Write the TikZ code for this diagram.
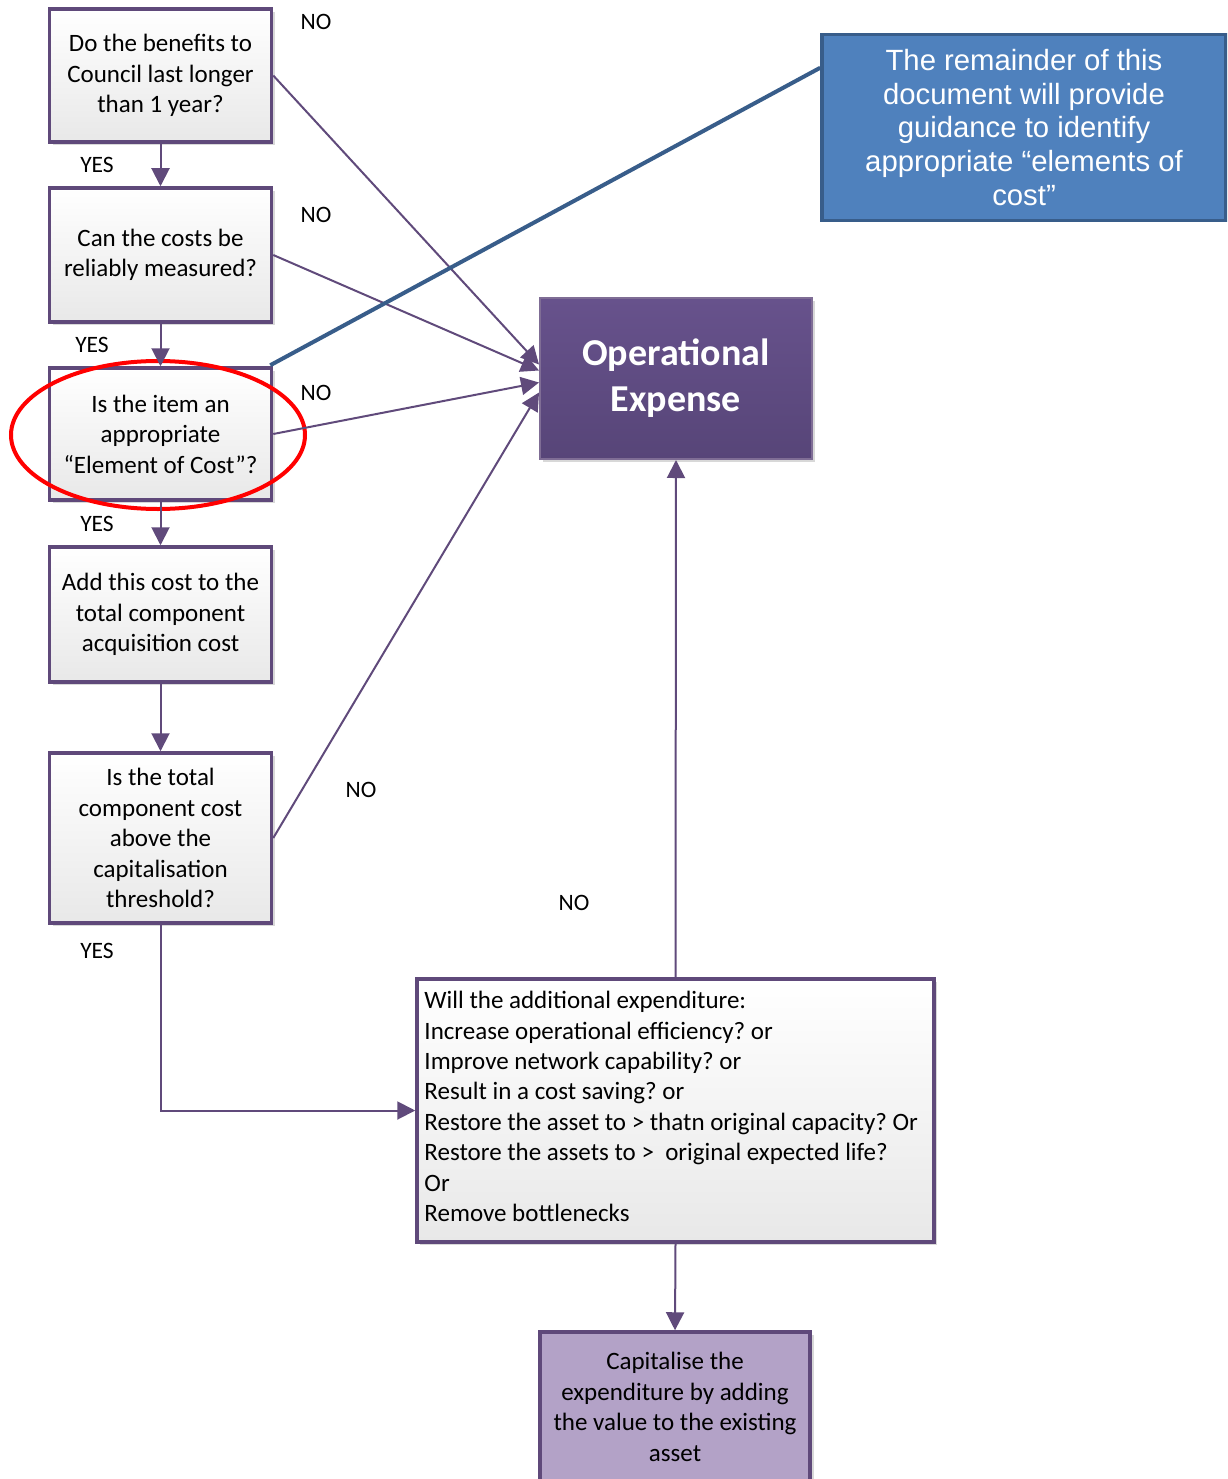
\documentclass[tikz,border=0pt]{standalone}
\usepackage{fontspec}
\setmainfont{Carlito}
\newfontfamily\arialf{Liberation Sans}
\usetikzlibrary{arrows.meta,shadows,calc}
\definecolor{boxborder}{HTML}{5F497A}
\definecolor{conn}{HTML}{604A7B}
\definecolor{optop}{HTML}{67528C}
\definecolor{opbot}{HTML}{574578}
\definecolor{capfill}{HTML}{B3A2C7}
\definecolor{bluefill}{HTML}{4F81BD}
\definecolor{blueedge}{HTML}{385D8A}
\frenchspacing
\tikzset{
  flowbox/.style={draw=boxborder, line width=3.5pt, top color=white, bottom color=black!9,
    minimum width=222pt, align=center, font=\fontsize{25}{30.5}\selectfont, inner sep=4pt,
    drop shadow={shadow xshift=3pt, shadow yshift=-3pt, fill=black!30, opacity=0.5}},
  lbl/.style={font=\fontsize{23.5}{26}\selectfont, inner sep=0pt},
  conline/.style={draw=conn, line width=2pt},
  arr/.style={conline, -{Triangle[length=18pt,width=18pt]}},
}
\begin{document}
\begin{tikzpicture}[x=1pt, y=-1pt]
\clip (0,0) rectangle (1227,1479);
\fill[white] (0,0) rectangle (1227,1479);

% left column boxes
\node[flowbox, minimum height=133pt] (b1) at (160.5,75.5) {Do the benefits to\\Council last longer\\than 1 year?};
\node[flowbox, minimum height=134pt] (b2) at (160.5,255) {Can the costs be\\reliably measured?};
\node[flowbox, minimum height=132pt] (b3) at (160.5,434) {Is the item an\\appropriate\\“Element of Cost”?};
\node[flowbox, minimum height=135pt] (b4) at (160.5,614.5) {Add this cost to the\\total component\\acquisition cost};
\node[flowbox, minimum height=170pt] (b5) at (160.5,838) {Is the total\\component cost\\above the\\capitalisation\\threshold?};

% operational expense
\node[draw=boxborder!80, line width=2pt, top color=optop, bottom color=opbot,
      minimum width=272pt, minimum height=161pt, align=center, text=white,
      font=\fontsize{38}{46}\selectfont\bfseries,
      drop shadow={shadow xshift=3pt, shadow yshift=-3pt, fill=black!30, opacity=0.5}]
      (op) at (676,378.5) {Operational\\Expense};

% blue note
\node[draw=blueedge, line width=3.5pt, fill=bluefill, minimum width=404pt, minimum height=186pt,
      align=center, text=white, font=\arialf\fontsize{29.3}{33.7}\selectfont]
      (blue) at (1024,127.5) {The remainder of this\\document will provide\\guidance to identify\\appropriate “elements of\\cost”};

% big question box
\node[draw=boxborder, line width=3.5pt, top color=white, bottom color=black!9,
      minimum width=517pt, minimum height=263pt,
      drop shadow={shadow xshift=3pt, shadow yshift=-3pt, fill=black!30, opacity=0.5}]
      (big) at (675.5,1110.5) {};
\node[anchor=west, align=left, inner sep=0pt, font=\fontsize{25}{30.4}\selectfont]
      (bigtext) at ([xshift=9pt, yshift=4pt]big.west) {Will the additional expenditure:\\Increase operational efficiency? or\\Improve network capability? or\\Result in a cost saving? or\\Restore the asset to > thatn original capacity? Or\\Restore the assets to >\ \ original expected life?\\Or\\Remove bottlenecks};

% capitalise box
\node[draw=boxborder, line width=3.5pt, fill=capfill, minimum width=270pt, minimum height=150pt,
      align=center, font=\fontsize{25}{30.5}\selectfont,
      drop shadow={shadow xshift=4pt, shadow yshift=-3pt, fill=black!30, opacity=0.5}]
      (cap) at (675,1407) {Capitalise the\\expenditure by adding\\the value to the existing\\asset};

% red ellipse
\draw[red, line width=4pt] (158,435) ellipse [x radius=147, y radius=74];

% vertical arrows
\draw[arr] (b1.south) -- (b2.north);
\draw[arr] (b2.south) -- (b3.north);
\draw[arr] (b3.south) -- (b4.north);
\draw[arr] (b4.south) -- (b5.north);

% NO arrows to operational expense
\draw[arr] (b1.east) -- ([yshift=14pt]op.west);
\draw[arr] (b2.east) -- ([yshift=8pt]op.west);
\draw[arr] (b3.east) -- ([yshift=-4pt]op.west);
\draw[arr] (b5.east) -- ([yshift=-14pt]op.west);

% blue callout line
\draw[blueedge, line width=4pt] ([xshift=-3pt,yshift=1pt]b3.north east) -- ([yshift=-35pt]blue.north west);

% big box connections
\draw[arr] (big.north) -- (op.south);
\draw[arr] (b5.south) |- (big.west);
\draw[arr] (big.south) -- (cap.north);

% labels
\node[lbl] (y1) at (97,165) {YES};
\node[lbl] (y2) at (92,345) {YES};
\node[lbl] (y3) at (97,524) {YES};
\node[lbl] (y4) at (97,951) {YES};
\node[lbl] (n1) at (316,22) {NO};
\node[lbl] (n2) at (316,215) {NO};
\node[lbl] (n3) at (316,393) {NO};
\node[lbl] (n4) at (361,790) {NO};
\node[lbl] (n5) at (574,903) {NO};
\end{tikzpicture}
\end{document}
